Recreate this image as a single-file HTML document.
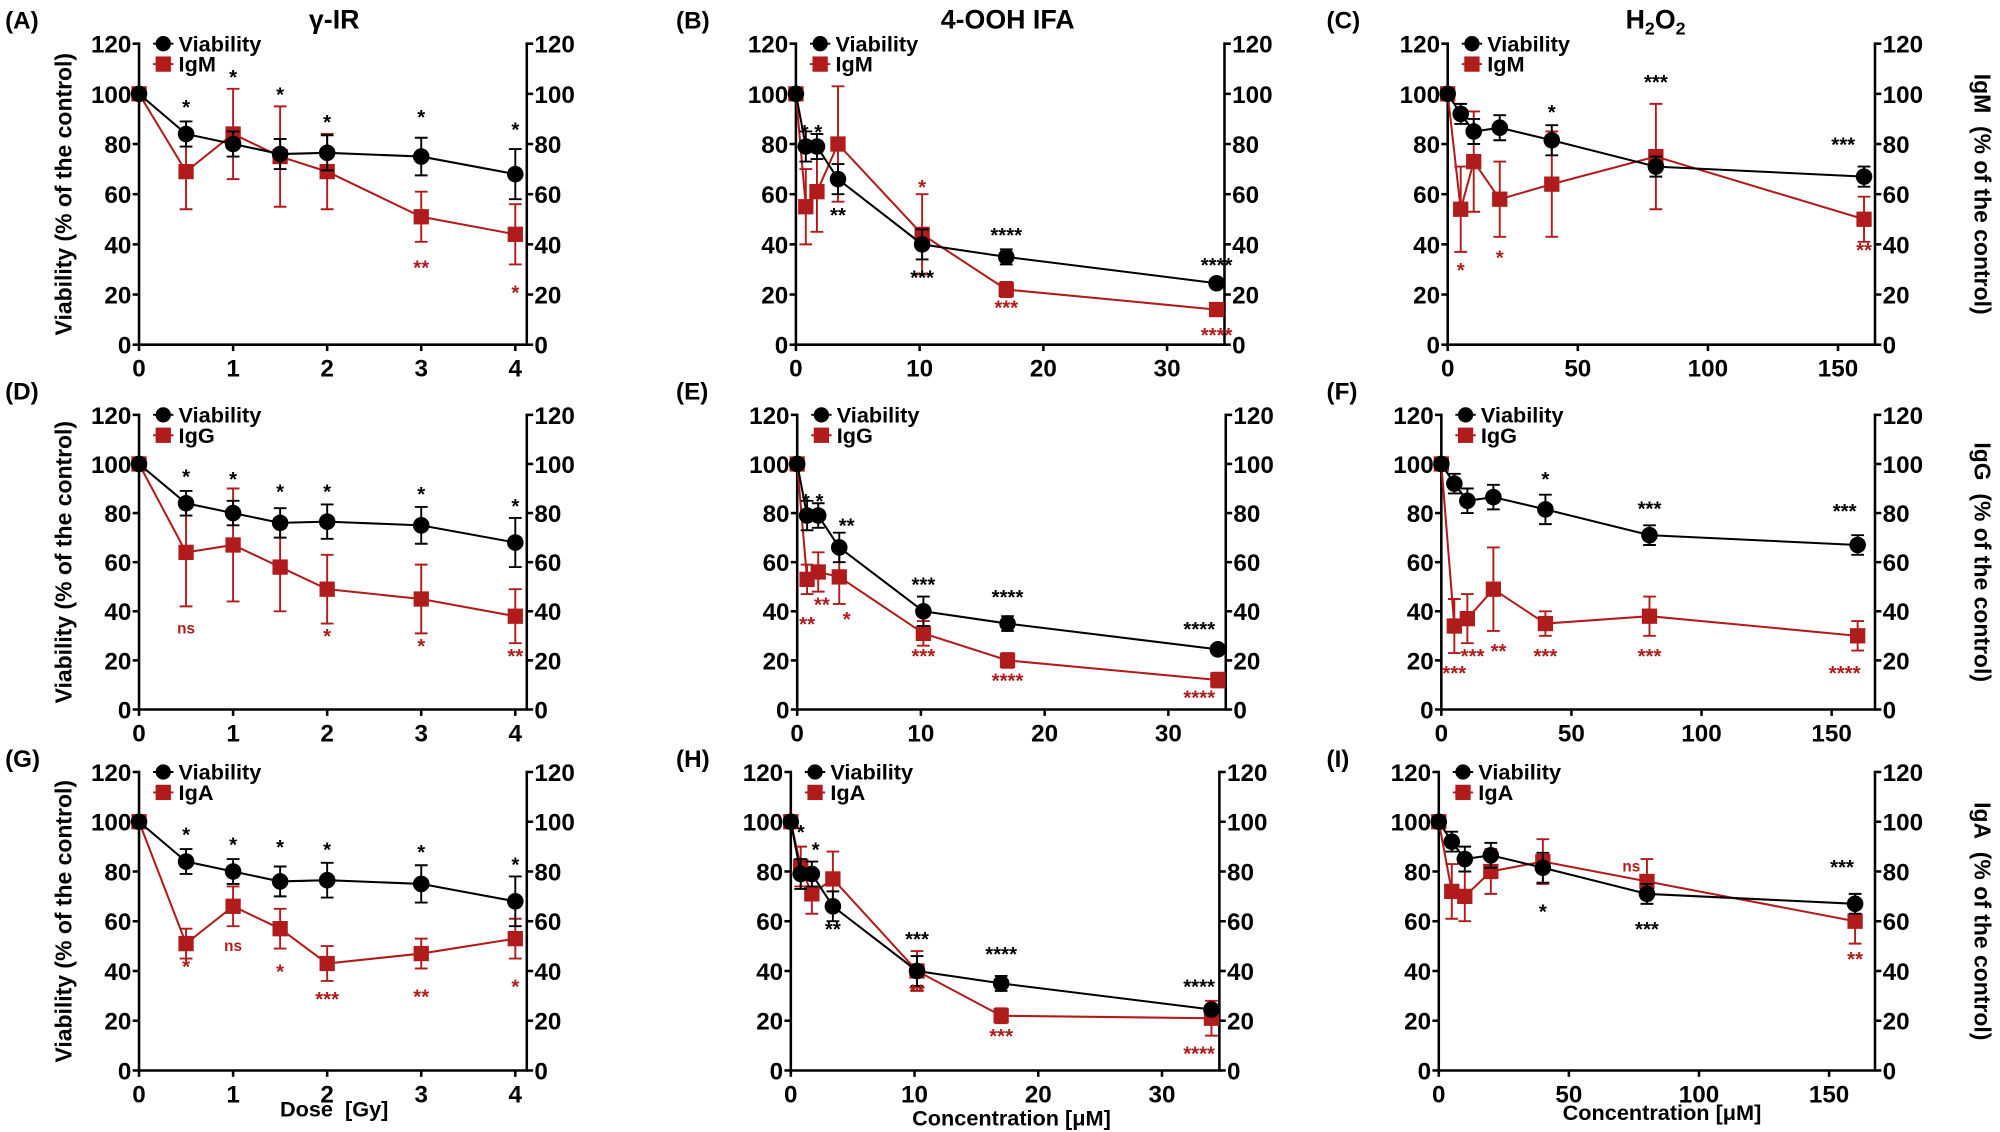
<!DOCTYPE html>
<html><head><meta charset="utf-8"><style>
html,body{margin:0;padding:0;background:#fff;}
svg{display:block;}
text{font-family:"Liberation Sans Narrow","Liberation Sans",sans-serif;font-weight:bold;}
</style></head><body>
<svg id="s" width="2000" height="1132" viewBox="0 0 1568 887" xmlns="http://www.w3.org/2000/svg"></svg>
<script>
const R='#b01c1c';
const s=document.getElementById('s');
let h='';
function P(o){
 const {L,Rx,T,B,xmax,xt,xs,v,ve,r,re,lab,ann,x0}=o;
 const X=x=>x0+(x)*xs, Y=y=>B-(y/120)*(B-T);
 h+=`<path d="M${L},${T-1}V${B}H${Rx}V${T-1}" fill="none" stroke="#000" stroke-width="2"/>`;
 for(let t=0;t<=120;t+=20){const y=Y(t);
  h+=`<line x1="${L-5}" x2="${L}" y1="${y}" y2="${y}" stroke="#000" stroke-width="2"/><line x1="${Rx}" x2="${Rx+5}" y1="${y}" y2="${y}" stroke="#000" stroke-width="2"/>`;
  h+=`<text x="${L-6}" y="${y+7}" font-size="19" text-anchor="end">${t}</text><text x="${Rx+6}" y="${y+7}" font-size="19">${t}</text>`;}
 xt.forEach(t=>{const x=X(t);h+=`<line x1="${x}" x2="${x}" y1="${B}" y2="${B+5}" stroke="#000" stroke-width="2"/><text x="${x}" y="${B+25}" font-size="19" text-anchor="middle">${t}</text>`;});
 const xs_=o.xv;
 function ser(d,e,c,sq){
  h+=`<polyline points="${d.map((y,i)=>X(xs_[i])+','+Y(y)).join(' ')}" fill="none" stroke="${c}" stroke-width="1.6"/>`;
  d.forEach((y,i)=>{const x=X(xs_[i]);if(e[i]){h+=`<path d="M${x},${Y(y-e[i])}V${Y(y+e[i])}M${x-5},${Y(y-e[i])}h10M${x-5},${Y(y+e[i])}h10" stroke="${c}" stroke-width="1.5" fill="none"/>`;}
   h+=sq?`<rect x="${x-6}" y="${Y(y)-6}" width="12" height="12" fill="${c}"/>`:`<circle cx="${x}" cy="${Y(y)}" r="6.5" fill="${c}"/>`;});
 }
 ser(r,re,R,1);ser(v,ve,'#000',0);
 h+=`<line x1="${L+11}" x2="${L+27}" y1="${T}" y2="${T}" stroke="#000" stroke-width="1.5"/><circle cx="${L+19}" cy="${T}" r="6" fill="#000"/><text x="${L+31}" y="${T+6}" font-size="17">Viability</text>`;
 h+=`<line x1="${L+11}" x2="${L+27}" y1="${T+16}" y2="${T+16}" stroke="${R}" stroke-width="1.5"/><rect x="${L+13}" y="${T+10}" width="12" height="12" fill="${R}"/><text x="${L+31}" y="${T+22}" font-size="17">${lab}</text>`;
 ann.forEach(a=>{h+=`<text x="${X(a[1])}" y="${Y(a[2])}" font-size="${a[0]=='ns'?12:16}" text-anchor="middle" fill="${a[3]?R:'#000'}">${a[0]}</text>`;});
}
const rows=[[34,270],[325,556],[605,839]];
const gx=[0,.5,1,1.5,2,3,4], cx=[0,.8,1.7,3.4,10.2,17,34], hx=[0,5,10,20,40,80,160];
const colA=(r)=>({L:109,Rx:413,x0:109,xs:73.75,xt:[0,1,2,3,4],xv:gx,T:rows[r][0],B:rows[r][1]});
const colB=(r,x0)=>({L:x0,Rx:x0+336,x0:x0,xs:9.7,xt:[0,10,20,30],xv:cx,T:rows[r][0],B:rows[r][1]});
const colC=(r,x0)=>({L:x0,Rx:1470,x0:x0,xs:2.04,xt:[0,50,100,150],xv:hx,T:rows[r][0],B:rows[r][1]});
const vg=[100,84,80,76,76.5,75,68],vge=[0,5,5,6,7,7.5,10];
const vc=[100,79,79,66,40,35,24.5],vce=[0,6,5,6,6,3,1];
const vh=[100,92,85,86.5,81.5,71,67],vhe=[0,4,5,5,6,4,4];
const A=(t,x,y,r)=>[t,x,y,r];
P(Object.assign(colA(0),{v:vg,ve:vge,r:[100,69,84,75,69,51,44],re:[0,15,18,20,15,10,12],lab:'IgM',
 ann:[A('*',.5,92),A('*',1,104),A('*',1.5,97),A('*',2,86),A('*',3,88),A('*',4,83),A('**',3,28,1),A('*',4,18,1)]}));
P(Object.assign(colB(0,624),{v:vc,ve:vce,r:[100,55,61,80,44,22,14],re:[0,15,16,23,16,3,1.5],lab:'IgM',
 ann:[A('* *',1.25,82),A('**',3.4,49),A('***',10.2,24),A('****',17,41),A('****',34,29),A('*',10.2,60,1),A('***',17,12,1),A('****',34,1,1)]}));
P(Object.assign(colC(0,1135),{v:vh,ve:vhe,r:[100,54,73,58,64,75,50],re:[0,17,20,15,21,21,9],lab:'IgM',
 ann:[A('*',40,90),A('***',80,102),A('***',152,77),A('*',5,27,1),A('*',20,32,1),A('**',160,35,1)]}));
P(Object.assign(colA(1),{v:vg,ve:vge,r:[100,64,67,58,49,45,38],re:[0,22,23,18,14,14,11],lab:'IgG',
 ann:[A('*',.5,92),A('*',1,91),A('*',1.5,86),A('*',2,86),A('*',3,85),A('*',4,80),A('ns',.5,31,1),A('*',2,27,1),A('*',3,23,1),A('**',4,19,1)]}));
P(Object.assign(colB(1,625),{v:vc,ve:vce,r:[100,53,56,54,31,20,12],re:[0,6,8,11,5,3,3],lab:'IgG',
 ann:[A('* *',1.25,82),A('**',4,72),A('***',10.2,48),A('****',17,43),A('****',32.5,30),A('**',.8,32,1),A('**',2,40,1),A('*',4,34,1),A('***',10.2,19,1),A('****',17,9,1),A('****',32.5,2,1)]}));
P(Object.assign(colC(1,1130),{v:vh,ve:vhe,r:[100,34,37,49,35,38,30],re:[0,11,10,17,5,8,6],lab:'IgG',
 ann:[A('*',40,91),A('***',80,79),A('***',155,78),A('***',5,12,1),A('***',12,19,1),A('**',22,21,1),A('***',40,19,1),A('***',80,19,1),A('****',155,12,1)]}));
P(Object.assign(colA(2),{v:vg,ve:vge,r:[100,51,66,57,43,47,53],re:[0,6,8,8,7,6,8],lab:'IgA',
 ann:[A('*',.5,92),A('*',1,88),A('*',1.5,87),A('*',2,86),A('*',3,85),A('*',4,80),A('*',.5,39,1),A('ns',1,48,1),A('*',1.5,37,1),A('***',2,26,1),A('**',3,27,1),A('*',4,31,1)]}));
P(Object.assign(colB(2,620),{v:vc,ve:vce,r:[100,82,71,77,40,22,21],re:[0,8,8,11,8,3,7],lab:'IgA',
 ann:[A('*',.8,93),A('*',2,86),A('**',3.4,54),A('***',10.2,50),A('****',17,44),A('****',33,31),A('**',10.2,29,1),A('***',17,11,1),A('****',33,4,1)]}));
P(Object.assign(colC(2,1128),{v:vh,ve:vhe,r:[100,72,70,80,84,76,60],re:[0,11,10,9,9,9,9],lab:'IgA',
 ann:[A('*',40,61),A('***',80,54),A('***',155,79),A('ns',74,80,1),A('**',160,42,1)]}));
const T=(x,y,t,fs,extra='')=>h+=`<text x="${x}" y="${y}" font-size="${fs}" ${extra}>${t}</text>`;
T(262,22,'γ-IR',21,'text-anchor="middle" font-family="Liberation Sans"');
T(790,22,'4-OOH IFA',21,'text-anchor="middle"');
T(1298,22,'H<tspan font-size="14" dy="5">2</tspan><tspan dy="-5">O</tspan><tspan font-size="14" dy="5">2</tspan>',21,'text-anchor="middle"');
[['(A)',4,22],['(B)',530,22],['(C)',1040,22],['(D)',4,313],['(E)',530,313],['(F)',1040,313],['(G)',4,601],['(H)',530,601],['(I)',1040,601]].forEach(a=>T(a[1],a[2],a[0],19));
rows.forEach((r,i)=>{const c=(r[0]+r[1])/2;
 h+=`<text transform="translate(56,${c}) rotate(-90)" font-size="18" text-anchor="middle" font-family="Liberation Sans">Viability (% of the control)</text>`;
 h+=`<text transform="translate(1548,${c}) rotate(90)" font-size="18" text-anchor="middle" font-family="Liberation Sans">${['IgM','IgG','IgA'][i]}&#160;&#160;(% of the control)</text>`;});
T(262,875,'Dose&#160;&#160;[Gy]',17,'text-anchor="middle"');
T(793,882,'Concentration [μM]',17,'text-anchor="middle"');
T(1303,878,'Concentration [μM]',17,'text-anchor="middle"');
s.innerHTML=h;
</script>
</body></html>
